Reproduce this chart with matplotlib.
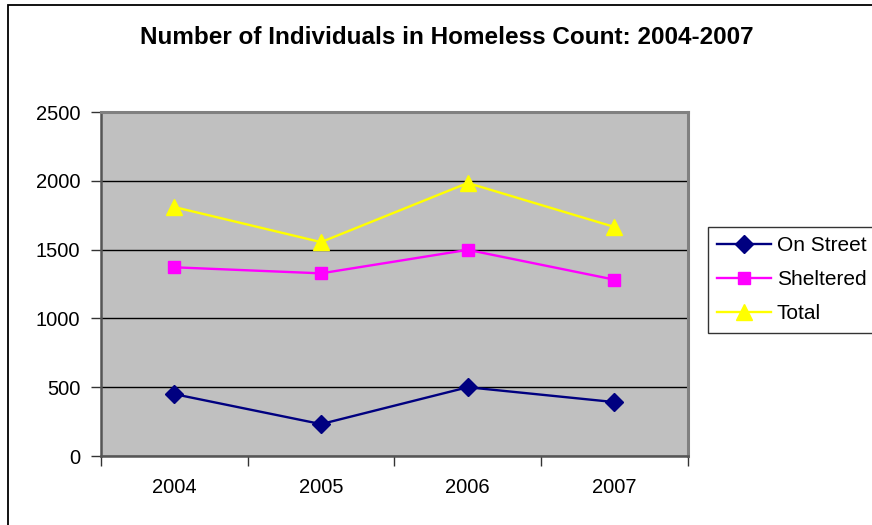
import matplotlib
matplotlib.use("Agg")
import matplotlib.pyplot as plt

years = ["2004", "2005", "2006", "2007"]
on_street = [450, 232, 500, 392]
sheltered = [1372, 1328, 1499, 1282]
total = [1810, 1555, 1985, 1665]

plt.rcParams['font.family'] = ['Liberation Sans', 'DejaVu Sans']

fig = plt.figure(figsize=(8.72, 5.25), dpi=100)
# outer chart border (right and bottom edges fall outside the image)
fig.patches.append(plt.Rectangle((0.0092, -0.2), 1.3, 1.1905, transform=fig.transFigure,
                                 fill=False, edgecolor='black', linewidth=1.3))

ax = fig.add_axes([0.1158, 0.1314, 0.673, 0.655])
ax.set_facecolor('#c0c0c0')

x = range(len(years))
ax.plot(x, on_street, color='#000080', marker='D', markersize=9, linewidth=1.7, label='On Street')
ax.plot(x, sheltered, color='#ff00ff', marker='s', markersize=9, linewidth=1.7, label='Sheltered')
ax.plot(x, total, color='#ffff00', marker='^', markersize=11, linewidth=1.7, label='Total')

ax.set_xlim(-0.5, 3.5)
ax.set_ylim(0, 2500)
ax.set_yticks(range(0, 2501, 500))
ax.yaxis.grid(True, color='black', linewidth=1)
ax.set_axisbelow(True)

# category labels centred, tick marks between categories
ax.set_xticks([-0.5, 0.5, 1.5, 2.5, 3.5])
ax.set_xticklabels([])
ax.set_xticks(list(x), minor=True)
ax.set_xticklabels(years, minor=True)
ax.tick_params(axis='x', which='minor', length=0, labelsize=14.5, pad=16)
ax.tick_params(axis='x', which='major', length=7, width=1, color='#333333')
ax.tick_params(axis='y', length=7, width=1, color='#333333', labelsize=14.5, pad=8)

for side in ['top', 'right']:
    ax.spines[side].set_color('#808080')
    ax.spines[side].set_linewidth(2.2)
for side in ['left', 'bottom']:
    ax.spines[side].set_color('#555555')
    ax.spines[side].set_linewidth(1.8)

fig.text(0.512, 0.928, "Number of Individuals in Homeless Count: 2004-2007",
         ha='center', va='center', fontsize=17.5, fontweight='bold')

leg = ax.legend(loc='upper left', bbox_to_anchor=(708 / 872, 1 - 227 / 525),
                bbox_transform=fig.transFigure, fontsize=15, frameon=True,
                fancybox=False, edgecolor='black', handlelength=2.55, borderpad=0.45,
                labelspacing=0.72, handletextpad=0.3, borderaxespad=0)
leg.get_frame().set_linewidth(1)

fig.savefig("out.png", dpi=100)
